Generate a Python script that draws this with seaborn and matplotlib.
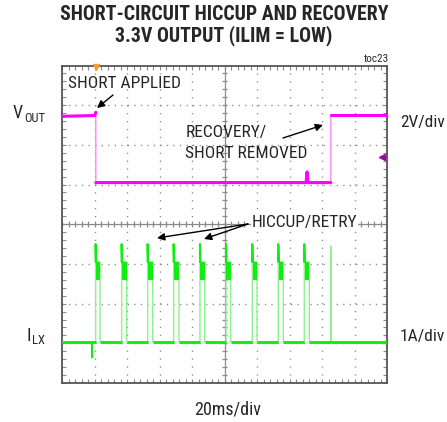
import numpy as np
import pandas as pd
import matplotlib
matplotlib.use("Agg")
import matplotlib.pyplot as plt
import matplotlib.font_manager as fm
import seaborn as sns

# ---------------- data (time in ms, levels in screen divisions 0..8) ----------------
vout_high = 6.76
vout_low = 5.05
short_ms = 20.8
recover_ms = 165.4
bump_ms = 150.8
bump_peak = 5.32

pulse_start_ms = [20.7, 36.7, 52.7, 68.7, 84.9, 100.9, 117.1, 133.1, 149.1]
pulse_end_ms = [23.4, 39.8, 55.8, 72.0, 87.8, 103.8, 120.0, 136.2, 152.2]
retry_ms = 165.4
ilx_base = 1.04
ilx_spike = 3.5
ilx_plateau_hi = 3.05
ilx_plateau_lo = 2.6
neg_spike_ms = 18.3
neg_spike_level = 0.63

# ---------------- fonts ----------------
sns.set_theme(style="white")
avail = {f.name for f in fm.fontManager.ttflist}
narrow = next((n for n in ["Liberation Sans Narrow", "Arial Narrow", "DejaVu Sans Condensed",
                           "Roboto Condensed"] if n in avail), "Liberation Sans")
plt.rcParams["font.family"] = [narrow, "DejaVu Sans"]

W, H = 447, 422
fig = plt.figure(figsize=(W / 100, H / 100), dpi=100)
L, R, T, B = 62, 387, 65.5, 383
ax = fig.add_axes([L / W, 1 - B / H, (R - L) / W, (B - T) / H])
ax.set_xlim(0, 200)
ax.set_ylim(0, 8)
ax.set_facecolor("white")

# ---------------- grid ----------------
gcol = "#8a8a8a"
for x in range(20, 200, 20):
    if x != 100:
        ax.axvline(x, color=gcol, lw=1.0, ls=(0, (0.9, 4.8)), zorder=1)
for y in range(1, 8):
    if y != 4:
        ax.axhline(y, color=gcol, lw=1.0, ls=(0, (0.9, 3.8)), zorder=1)
ax.axhline(4, color=gcol, lw=0.9, zorder=1)
ax.axvline(100, color=gcol, lw=0.9, zorder=1)
ax.vlines(np.arange(0, 200, 4), 4 - 0.08, 4 + 0.08, color=gcol, lw=0.9, zorder=1)
ax.hlines(np.arange(0, 8, 0.2), 100 - 1.8, 100 + 1.8, color=gcol, lw=0.9, zorder=1)

ax.set_xticks(np.arange(0, 201, 20))
ax.set_yticks(np.arange(0, 9, 1))
ax.set_xticks(np.arange(0, 201, 4), minor=True)
ax.set_yticks(np.arange(0, 8.01, 0.2), minor=True)
ax.tick_params(which="both", direction="in", top=True, right=True, bottom=True, left=True,
               length=3, width=0.8, color=gcol, labelbottom=False, labelleft=False)
for s in ax.spines.values():
    s.set_color("#555555")
    s.set_linewidth(1.3)
ax.grid(False)

# ---------------- VOUT trace ----------------
mag, mag_light = "#ff00ff", "#ff88ff"
vout = pd.DataFrame({
    "t": [0, short_ms - 0.6, short_ms, short_ms, bump_ms - 0.6, bump_ms, bump_ms + 0.7,
          recover_ms, recover_ms, 200],
    "v": [vout_high - 0.04, vout_high - 0.02, vout_high + 0.06, vout_low, vout_low, bump_peak,
          vout_low, vout_low, vout_high, vout_high],
})
sns.lineplot(data=vout, x="t", y="v", ax=ax, color=mag_light, lw=1.0, sort=False,
             estimator=None, zorder=3)
vseg = pd.DataFrame({
    "t": [0, short_ms - 0.6, short_ms,
          short_ms, bump_ms - 0.6, bump_ms, bump_ms + 0.7, recover_ms,
          recover_ms, 200],
    "v": [vout_high - 0.04, vout_high - 0.02, vout_high + 0.06,
          vout_low, vout_low, bump_peak, vout_low, vout_low,
          vout_high, vout_high],
    "seg": [0, 0, 0, 1, 1, 1, 1, 1, 2, 2],
})
sns.lineplot(data=vseg, x="t", y="v", units="seg", ax=ax, color=mag, lw=2.2, sort=False,
             estimator=None, zorder=4)

# ---------------- ILX trace ----------------
grn, grn_light = "#10ee10", "#8ef28e"
tt, vv = [0, neg_spike_ms, neg_spike_ms, neg_spike_ms + 0.2], [ilx_base, ilx_base, neg_spike_level, ilx_base]
for ts, te in zip(pulse_start_ms, pulse_end_ms):
    tt += [ts, ts, ts + 0.3, te, te, te]
    vv += [ilx_base, ilx_spike, ilx_plateau_hi, ilx_plateau_hi, ilx_plateau_lo, ilx_base]
tt += [retry_ms, retry_ms, retry_ms + 0.15, 200]
vv += [ilx_base, ilx_spike - 0.05, ilx_base, ilx_base]
ilx = pd.DataFrame({"t": tt, "v": vv})
sns.lineplot(data=ilx, x="t", y="v", ax=ax, color=grn_light, lw=1.0, sort=False,
             estimator=None, zorder=3)

# saturated baseline segments
ends = [pulse_start_ms[0]] + pulse_start_ms[1:] + [retry_ms, 200]
starts = [0] + pulse_end_ms + [retry_ms]
ax.hlines([ilx_base] * len(starts), starts, ends, color=grn, lw=2.1, zorder=4)
ax.vlines([neg_spike_ms], [neg_spike_level], [ilx_base], color=grn, lw=1.5, zorder=4)
for ts, te in zip(pulse_start_ms, pulse_end_ms):
    ax.plot([ts, ts, ts + 0.3], [ilx_plateau_hi, ilx_spike, ilx_plateau_hi], color=grn,
            lw=1.5, zorder=4)
    ax.fill_between([ts + 0.3, te], ilx_plateau_lo, ilx_plateau_hi, color=grn, lw=0, zorder=4)

# markers
ax.plot([short_ms], [7.97], marker="v", color="#f0a030", ms=5, clip_on=False, zorder=6)
ax.plot([197.0], [5.7], marker="<", color="#a000b0", ms=4.5, clip_on=False, zorder=6)

# ---------------- text ----------------
def fx(px):
    return (px - L) / (R - L)

def fy(py):
    return 1 - (py - T) / (B - T)

fs = 12.5
ax.text(fx(68), fy(83), "SHORT APPLIED", transform=ax.transAxes, fontsize=fs, va="center", ha="left")
ax.text(fx(186), fy(133), "RECOVERY/", transform=ax.transAxes, fontsize=fs, va="center", ha="left")
ax.text(fx(185), fy(154), "SHORT REMOVED", transform=ax.transAxes, fontsize=fs, va="center", ha="left")
ax.text(fx(252), fy(223), "HICCUP/RETRY", transform=ax.transAxes, fontsize=fs, va="center", ha="left",
        zorder=7, bbox=dict(facecolor="white", edgecolor="none", pad=0.5))

ap = dict(arrowstyle="-|>", color="black", lw=1.0, mutation_scale=11, shrinkA=0, shrinkB=0)
ax.annotate("", xy=(fx(97), fy(108)), xytext=(fx(113), fy(95)), xycoords="axes fraction",
            textcoords="axes fraction", arrowprops=ap)
ax.annotate("", xy=(fx(323), fy(125)), xytext=(fx(283), fy(138)), xycoords="axes fraction",
            textcoords="axes fraction", arrowprops=ap)
ax.annotate("", xy=(fx(157), fy(238)), xytext=(fx(248), fy(224)), xycoords="axes fraction",
            textcoords="axes fraction", arrowprops=ap)
ax.annotate("", xy=(fx(204), fy(239)), xytext=(fx(248), fy(224)), xycoords="axes fraction",
            textcoords="axes fraction", arrowprops=ap)

def ft(px, py, s, **kw):
    fig.text(px / W, 1 - py / H, s, **kw)

ft(224, 14, "SHORT-CIRCUIT HICCUP AND RECOVERY", fontsize=14.3, fontweight="bold", ha="center", va="center")
ft(224, 36, "3.3V OUTPUT (ILIM = LOW)", fontsize=14.3, fontweight="bold", ha="center", va="center")
ft(389, 59, "toc23", fontsize=8, ha="right", va="center")
ft(13, 113.5, "V", fontsize=13, ha="left", va="center")
ft(24, 119, "OUT", fontsize=9, ha="left", va="center")
ft(27, 336, "I", fontsize=13, ha="left", va="center")
ft(32, 340, "LX", fontsize=9, ha="left", va="center")
ft(400, 122, "2V/div", fontsize=fs, ha="left", va="center")
ft(400, 336, "1A/div", fontsize=fs, ha="left", va="center")
ft(228, 409, "20ms/div", fontsize=fs + 0.5, ha="center", va="center")

fig.savefig("out.png", dpi=100, facecolor="white")
